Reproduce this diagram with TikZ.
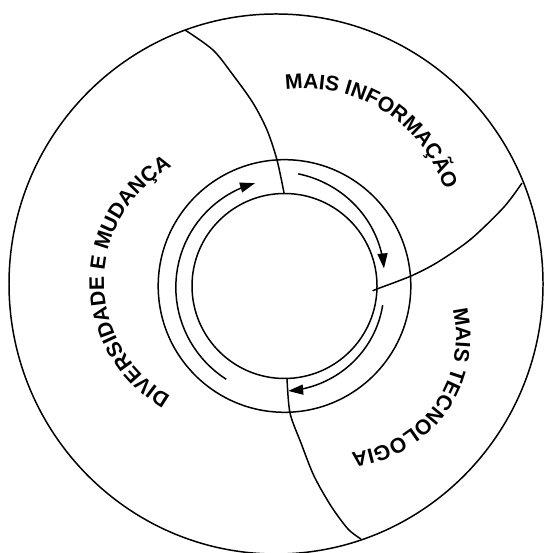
\documentclass[tikz,border=0pt]{standalone}
\usepackage{fontspec}
\setmainfont{Liberation Sans}
\usetikzlibrary{arrows.meta,decorations.text}
\newcommand{\ringfont}{\bfseries\fontsize{12}{14}\selectfont}

\begin{document}
\begin{tikzpicture}[x=0.02cm,y=0.02cm,line width=0.85pt,
  flow/.style={-{Triangle[length=3mm,width=2mm]}},
  ringtext/.style={decorate,decoration={text along path,text align=center,text={|\ringfont|#1}}}]
\useasboundingbox (0,0) rectangle (543,553);
\coordinate (ctr) at (284.5,267);
% ---- rings ----
\draw (276,269) ellipse[x radius=267,y radius=270];
\draw (ctr) circle[radius=126.3];
\draw (ctr) circle[radius=92.5];
% ---- sector borders ----
\draw plot[smooth] coordinates {(185,523) (213,503) (233,478) (253,450) (267,423) (277,393) (284,360)};
\draw plot[smooth] coordinates {(522,370) (504,346) (471,314) (438,291) (411,277) (377,264) (373,262)};
\draw plot[smooth] coordinates {(287,174.5) (290,140) (301,110) (314,77) (331,47) (348,24) (361,14)};
% ---- cycle arrows (clockwise) ----
\draw[flow] plot[domain=238:106,samples=40] ({284.5+(110-3*(238-\x)/132)*cos(\x)},{267+(110-3*(238-\x)/132)*sin(\x)});
\draw[flow] plot[domain=83:10,samples=40] ({284.5+(113-12*(83-\x)/73)*cos(\x)},{267+(113-12*(83-\x)/73)*sin(\x)});
\draw[flow] plot[domain=-11:-88,samples=40] ({284.5+(100+5*(-11-\x)/77)*cos(\x)},{267+(100+5*(-11-\x)/77)*sin(\x)});
% ---- sector labels ----
\path[ringtext={MAIS INFORMAÇÃO}] (305,318) ++(102.75:146.5) arc[start angle=102.75,end angle=12.75,radius=146.5];
\path[ringtext={DIVERSIDADE E MUDANÇA}] (235,271) ++(244.6:131) arc[start angle=244.6,end angle=114.6,radius=131];
\path[ringtext={MAIS TECNOLOGIA}] (340,216) ++(19.7:116) arc[start angle=19.7,end angle=-90.3,radius=116];
\end{tikzpicture}
\end{document}
